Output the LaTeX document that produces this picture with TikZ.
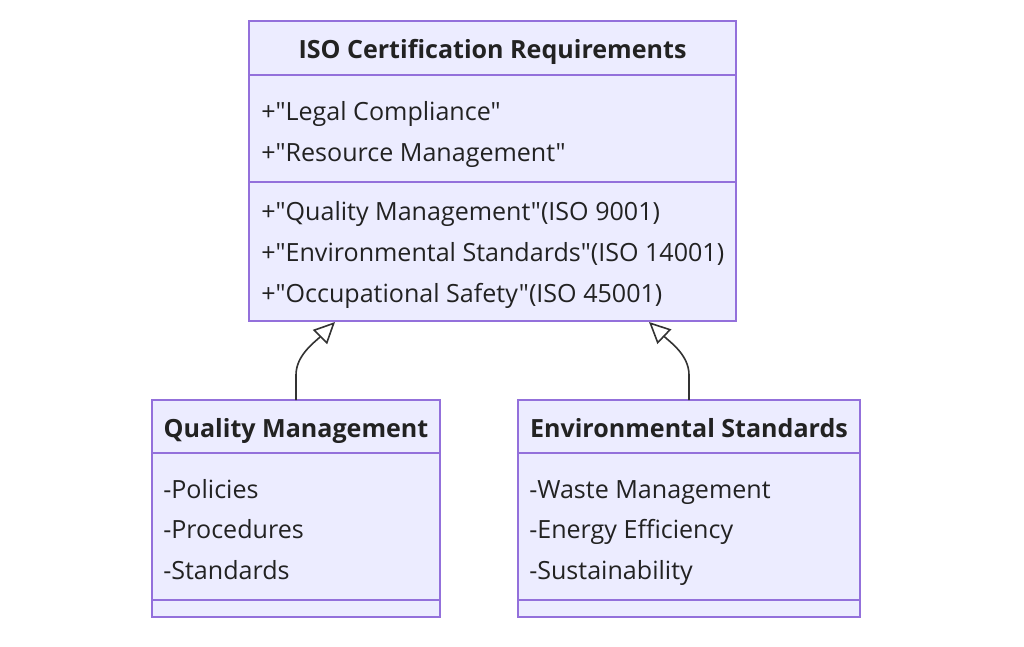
\documentclass[tikz,border=0pt]{standalone}
\usepackage{fontspec}
\setmainfont{Open Sans}[Ligatures=TeXOff]
\usetikzlibrary{arrows.meta,fit}
\definecolor{boxfill}{HTML}{ECECFF}
\definecolor{boxline}{HTML}{9370DB}
\definecolor{txt}{HTML}{222222}
\definecolor{edge}{HTML}{333333}
\tikzset{
  classbox/.style={draw=boxline, fill=boxfill, line width=1.3pt, inner sep=0pt},
  sep/.style={draw=boxline, line width=1.3pt},
  title/.style={font=\fontsize{18.8}{22}\selectfont\bfseries, text=txt, inner sep=0pt, anchor=mid},
  member/.style={font=\fontsize{18.8}{22}\selectfont, text=txt, anchor=mid west, inner sep=0pt},
  inherit/.style={draw=edge, line width=1.2pt, -{Triangle[open, length=16pt, width=15pt, fill=white]}},
}
\begin{document}
\begin{tikzpicture}[x=0.75pt,y=-0.75pt]
\useasboundingbox (0,0) rectangle (1024,646);
\fill[white] (0,0) rectangle (1024,646);
% top class
\node[classbox, fit={(249,21) (736,321)}] (iso) {};
\draw[sep] (249,75) -- (736,75);
\draw[sep] (249,182) -- (736,182);
\node[title] (isoT) at (492.5,55) {ISO Certification Requirements};
\node[member] (iso1) at (261,117) {+"Legal Compliance"};
\node[member] (iso2) at (261,158) {+"Resource Management"};
\node[member] (iso3) at (261,217) {+"Quality Management"(ISO 9001)};
\node[member] (iso4) at (261,258) {+"Environmental Standards"(ISO 14001)};
\node[member] (iso5) at (261,299) {+"Occupational Safety"(ISO 45001)};
% quality management
\node[classbox, fit={(152,400) (440,617)}] (qm) {};
\draw[sep] (152,453) -- (440,453);
\draw[sep] (152,600) -- (440,600);
\node[title] (qmT) at (296,434) {Quality Management};
\node[member] (qm1) at (163,495) {-Policies};
\node[member] (qm2) at (163,535) {-Procedures};
\node[member] (qm3) at (163,576) {-Standards};
% environmental standards
\node[classbox, fit={(518,400) (860,617)}] (es) {};
\draw[sep] (518,453) -- (860,453);
\draw[sep] (518,600) -- (860,600);
\node[title] (esT) at (689,434) {Environmental Standards};
\node[member] (es1) at (529,495) {-Waste Management};
\node[member] (es2) at (529,535) {-Energy Efficiency};
\node[member] (es3) at (529,576) {-Sustainability};
% connectors
\coordinate (qmTop) at (296,400);
\coordinate (qmBend) at (296,375);
\coordinate (tipL) at (335,322);
\coordinate (esTop) at (689,400);
\coordinate (esBend) at (689,375);
\coordinate (tipR) at (649,322);
\draw[inherit] (qmTop) -- (qmBend) .. controls (296,355) and (315,342) .. (tipL);
\draw[inherit] (esTop) -- (esBend) .. controls (689,355) and (670,342) .. (tipR);
\end{tikzpicture}
\end{document}
